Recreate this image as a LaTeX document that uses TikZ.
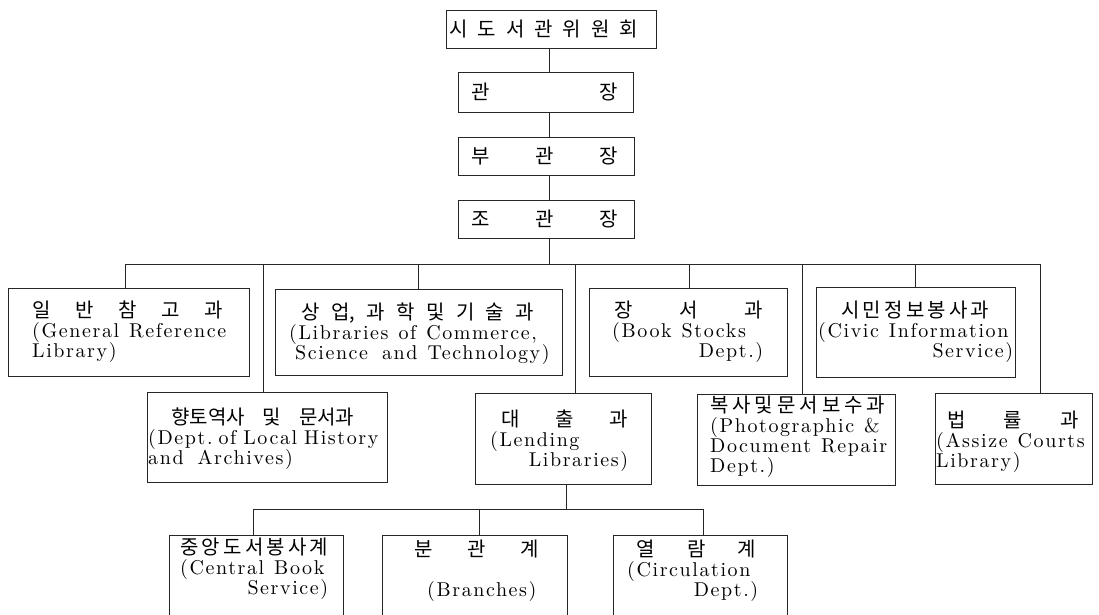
\documentclass[tikz,border=0pt]{standalone}
\usepackage{fontspec}
\setmainfont{lmroman10-regular.otf}[LetterSpace=8]
\newfontfamily\cjk{Noto Sans CJK KR}
\newcommand\kr{\cjk\fontsize{20}{20}\selectfont}
\newcommand\lblsetup{\parindent=0pt\lineskiplimit=-50pt\spaceskip=0.5em\xspaceskip=0.5em\relax}
\begin{document}
\begin{tikzpicture}[x=1pt,y=-1pt,
  box/.style={draw=black!85, line width=1pt, inner sep=0pt, anchor=north west},
  lbl/.style={inner sep=0pt, anchor=north west, align=flush left,
    font=\fontsize{20}{20}\selectfont, execute at begin node=\lblsetup},
  lbl1/.style={inner sep=0pt, anchor=west},
  conn/.style={draw=black!85, line width=1pt}]
\clip (0,0) rectangle (1099,614);
\fill[white] (0,0) rectangle (1099,614);
% top chain
\node[box, minimum width=210pt, minimum height=38pt] (c0) at (446,10) {};
\node[box, minimum width=175pt, minimum height=40pt] (c1) at (458,72) {};
\node[box, minimum width=176pt, minimum height=38pt] (c2) at (458,137) {};
\node[box, minimum width=176pt, minimum height=38pt] (c3) at (458,200) {};
\node[lbl1] (c0T) at (449,29.5) {\kr\makebox[189pt]{시\hfill 도\hfill 서\hfill 관\hfill 위\hfill 원\hfill 회}};
\node[lbl1] (c1T) at (471,92) {\kr\makebox[147pt]{관\hfill 장}};
\node[lbl1] (c2T) at (471,156) {\kr\makebox[147pt]{부\hfill 관\hfill 장}};
\node[lbl1] (c3T) at (471,219) {\kr\makebox[147pt]{조\hfill 관\hfill 장}};
% first row boxes
\node[box, minimum width=241pt, minimum height=88pt] (gen) at (8,288) {};
\node[box, minimum width=287pt, minimum height=86pt] (com) at (275,289) {};
\node[box, minimum width=198pt, minimum height=88pt] (stk) at (589,288) {};
\node[box, minimum width=199pt, minimum height=90pt] (civ) at (816,287) {};
% second row boxes
\node[box, minimum width=240pt, minimum height=90pt] (loc) at (147,392) {};
\node[box, minimum width=176pt, minimum height=91pt] (lend) at (475,393) {};
\node[box, minimum width=198pt, minimum height=91pt] (pho) at (697,394) {};
\node[box, minimum width=157pt, minimum height=91pt] (law) at (935,393) {};
% third row boxes
\node[box, minimum width=174pt, minimum height=100pt] (cen) at (169,535) {};
\node[box, minimum width=185pt, minimum height=100pt] (bra) at (382,535) {};
\node[box, minimum width=174pt, minimum height=100pt] (cir) at (613,535) {};
% labels
\node[lbl, text width=230pt] (genT) at (32,301) {{\kr\makebox[191pt]{일\hfill 반\hfill 참\hfill 고\hfill 과}}\\(General Reference\\Library)};
\node[lbl, text width=290pt] (comT) at (289,303) {\hspace*{12pt}{\kr\makebox[233pt]{상\hfill 업,\hfill 과\hfill 학\hfill 및\hfill 기\hfill 술\hfill 과}}\\(Libraries of Commerce,\\\hspace*{6pt}Science\hspace{14pt}and Technology)};
\node[lbl, text width=260pt] (locT) at (148,408) {\hspace*{23pt}{\kr\makebox[183pt]{향토역사\hfill 및\hfill 문서과}}\\(Dept.\hspace{6pt}of\hspace{7pt}Local\hspace{7pt}History\\and\hspace{14pt}Archives)};
\node[lbl, text width=220pt] (stkT) at (612,301) {\hspace*{2pt}{\kr\makebox[149pt]{장\hfill 서\hfill 과}}\\(Book Stocks\\\makebox[151pt][r]{Dept.)}};
\node[lbl, text width=220pt] (civT) at (818,301) {\hspace*{23pt}{\kr\makebox[148pt]{시\hfill 민\hfill 정\hfill 보\hfill 봉\hfill 사\hfill 과}}\\(Civic Information\\\makebox[195pt][r]{Service)}};
\node[lbl, text width=200pt] (lendT) at (490,410) {\hspace*{11pt}{\kr\makebox[127pt]{대\hfill 출\hfill 과}}\\(Lending\\\makebox[138pt][r]{Libraries)}};
\node[lbl, text width=220pt] (phoT) at (710,396) {{\kr\makebox[175pt]{복\hfill 사\hfill 및\hfill 문\hfill 서\hfill 보\hfill 수\hfill 과}}\\(Photographic \&\\Document Repair\\Dept.)};
\node[lbl, text width=200pt] (lawT) at (936,411) {\hspace*{11pt}{\kr\makebox[132pt]{법\hfill 률\hfill 과}}\\(Assize Courts\\Library)};
\node[lbl, text width=200pt] (cenT) at (180,538) {{\kr\makebox[148pt]{중\hfill 앙\hfill 도\hfill 서\hfill 봉\hfill 사\hfill 계}}\\(Central Book\\\makebox[148pt][r]{Service)}};
\node[lbl, text width=200pt] (braT) at (414,540) {{\kr\makebox[125pt]{분\hfill 관\hfill 계}}\\\mbox{}\\\hspace*{13pt}(Branches)};
\node[lbl, text width=200pt] (cirT) at (627,540) {\hspace*{9pt}{\kr\makebox[120pt]{열\hfill 람\hfill 계}}\\(Circulation\\\makebox[131pt][r]{Dept.)}};
% trunk
\coordinate (tr) at (549,264);
\draw[conn] (tr |- c0.south) -- (tr |- c1.north);
\draw[conn] (tr |- c1.south) -- (tr |- c2.north);
\draw[conn] (tr |- c2.south) -- (tr |- c3.north);
\draw[conn] (tr |- c3.south) -- (tr);
% main bus
\coordinate (b1) at (125,264);
\coordinate (b2) at (263,264);
\coordinate (b3) at (418,264);
\coordinate (b4) at (575,264);
\coordinate (b5) at (689,264);
\coordinate (b6) at (802,264);
\coordinate (b7) at (915,264);
\coordinate (b8) at (1040,264);
\draw[conn] (b1) -- (b8);
\foreach \b/\n in {b1/gen,b2/loc,b3/com,b4/lend,b5/stk,b6/pho,b7/civ,b8/law}
  \draw[conn] (\b) -- (\b |- \n.north);
% second bus
\coordinate (s0) at (566,509);
\draw[conn] (s0 |- lend.south) -- (s0);
\coordinate (s1) at (253,509);
\coordinate (s2) at (479,509);
\coordinate (s3) at (703,509);
\draw[conn] (s1) -- (s3);
\foreach \b/\n in {s1/cen,s2/bra,s3/cir}
  \draw[conn] (\b) -- (\b |- \n.north);
\end{tikzpicture}
\end{document}
